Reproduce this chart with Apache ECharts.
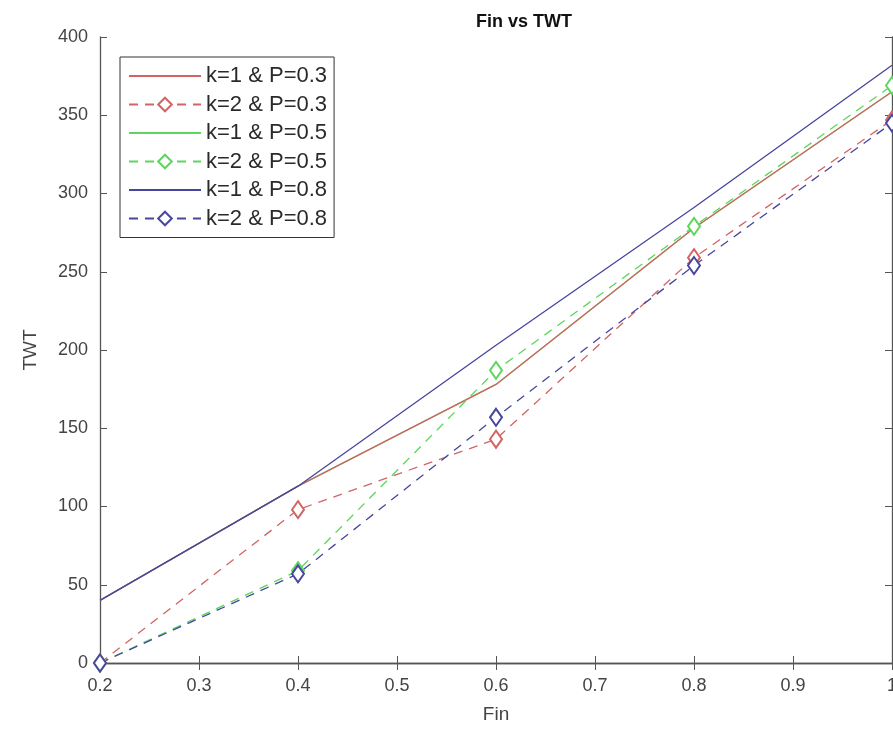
<!DOCTYPE html>
<html>
<head>
<meta charset="utf-8">
<script src="https://cdn.jsdelivr.net/npm/echarts@6/dist/echarts.min.js"></script>
<style>html,body{margin:0;padding:0;background:#fff}#c{width:893px;height:742px}</style>
</head>
<body>
<div id="c"></div>
<script>
var fin = [0.2, 0.4, 0.6, 0.8, 1.0];
var xTicks = [0.2, 0.3, 0.4, 0.5, 0.6, 0.7, 0.8, 0.9, 1];
var yTicks = [0, 50, 100, 150, 200, 250, 300, 350, 400];
var names = ['k=1 & P=0.3', 'k=2 & P=0.3', 'k=1 & P=0.5', 'k=2 & P=0.5', 'k=1 & P=0.8', 'k=2 & P=0.8'];
var k1p03 = [40, 113, 178, 278, 365];
var k2p03 = [0, 98, 143, 259, 347];
var k1p05 = [40, 113, 178, 278, 365];
var k2p05 = [0, 59, 187, 279, 369];
var k1p08 = [40, 113, 203, 291, 382];
var k2p08 = [0, 57, 157, 254, 345];

var RED = '#d26464', GREEN = '#5cd65c', BLUE = '#46469e';
var FONT = 'Liberation Sans, Arial, sans-serif';
function pairs(v){ return fin.map(function(x,i){ return [x, v[i]]; }); }
function solid(name, v, c, z){
  return {name:name, type:'line', data:pairs(v), symbol:'none', z:z,
    lineStyle:{color:c, width:1.3, type:'solid'}, itemStyle:{color:c}, emphasis:{disabled:true}};
}
function dashed(name, v, c){
  return {name:name, type:'line', data:pairs(v), symbol:'emptyDiamond', symbolSize:[12,17], z:3,
    lineStyle:{color:c, width:1.3, type:[9,7]}, itemStyle:{color:c, borderWidth:1.2}, emphasis:{disabled:true}};
}
var legendData = names.map(function(n, i){
  return i % 2 === 0 ? {name:n, itemStyle:{opacity:0}} : {name:n};
});
var axisCol = '#555';
var chart = echarts.init(document.getElementById('c'), null, {renderer:'canvas'});
chart.setOption({
  animation:false,
  backgroundColor:'#fff',
  title:{text:'Fin vs TWT', left:519, top:8, textAlign:'center',
    textStyle:{fontFamily:FONT, fontSize:18, fontWeight:'bold', color:'#111'}},
  legend:{orient:'vertical', left:120, top:57, itemWidth:72, itemHeight:17, itemGap:6.5,
    borderColor:'#333', borderWidth:1, backgroundColor:'#fff', padding:[8,7,8,8],
    textStyle:{fontFamily:FONT, fontSize:22, color:'#2a2a2a'},
    data:legendData},
  grid:{left:100, right:1, top:37, bottom:79, show:false, outerBoundsMode:'none', containLabel:false},
  xAxis:[{type:'value', min:0.2, max:1, interval:0.1, position:'bottom',
    name:'Fin', nameLocation:'middle', nameGap:42,
    nameTextStyle:{fontFamily:FONT, fontSize:19, color:'#444'},
    axisLine:{show:true, lineStyle:{color:axisCol, width:1.3}},
    axisTick:{show:true, inside:true, length:7, lineStyle:{color:axisCol}},
    splitLine:{show:false},
    axisLabel:{fontFamily:FONT, fontSize:18, color:'#444', margin:14,
      formatter:function(v){ var r = Math.round(v*10)/10; return xTicks.indexOf(r) >= 0 ? String(r) : ''; }}},
    {type:'value', min:0.2, max:1, interval:0.1, position:'top',
    axisLine:{show:true, lineStyle:{color:axisCol, width:1.3}},
    axisTick:{show:true, inside:true, length:7, lineStyle:{color:axisCol}},
    splitLine:{show:false}, axisLabel:{show:false}}],
  yAxis:[{type:'value', min:0, max:400, interval:50, position:'left',
    name:'TWT', nameLocation:'middle', nameGap:60, nameRotate:90,
    nameTextStyle:{fontFamily:FONT, fontSize:19, color:'#444'},
    axisLine:{show:true, lineStyle:{color:axisCol, width:1.3}},
    axisTick:{show:true, inside:true, length:7, lineStyle:{color:axisCol}},
    splitLine:{show:false},
    axisLabel:{fontFamily:FONT, fontSize:18, color:'#444', margin:12,
      formatter:function(v){ return yTicks.indexOf(v) >= 0 ? String(v) : ''; }}},
    {type:'value', min:0, max:400, interval:50, position:'right',
    axisLine:{show:true, lineStyle:{color:axisCol, width:1.3}},
    axisTick:{show:true, inside:true, length:7, lineStyle:{color:axisCol}},
    splitLine:{show:false}, axisLabel:{show:false}}],
  series:[
    solid(names[0], k1p03, RED, 2),
    dashed(names[1], k2p03, RED),
    solid(names[2], k1p05, GREEN, 1),
    dashed(names[3], k2p05, GREEN),
    solid(names[4], k1p08, BLUE, 2),
    dashed(names[5], k2p08, BLUE)
  ]
});
</script>
</body>
</html>
